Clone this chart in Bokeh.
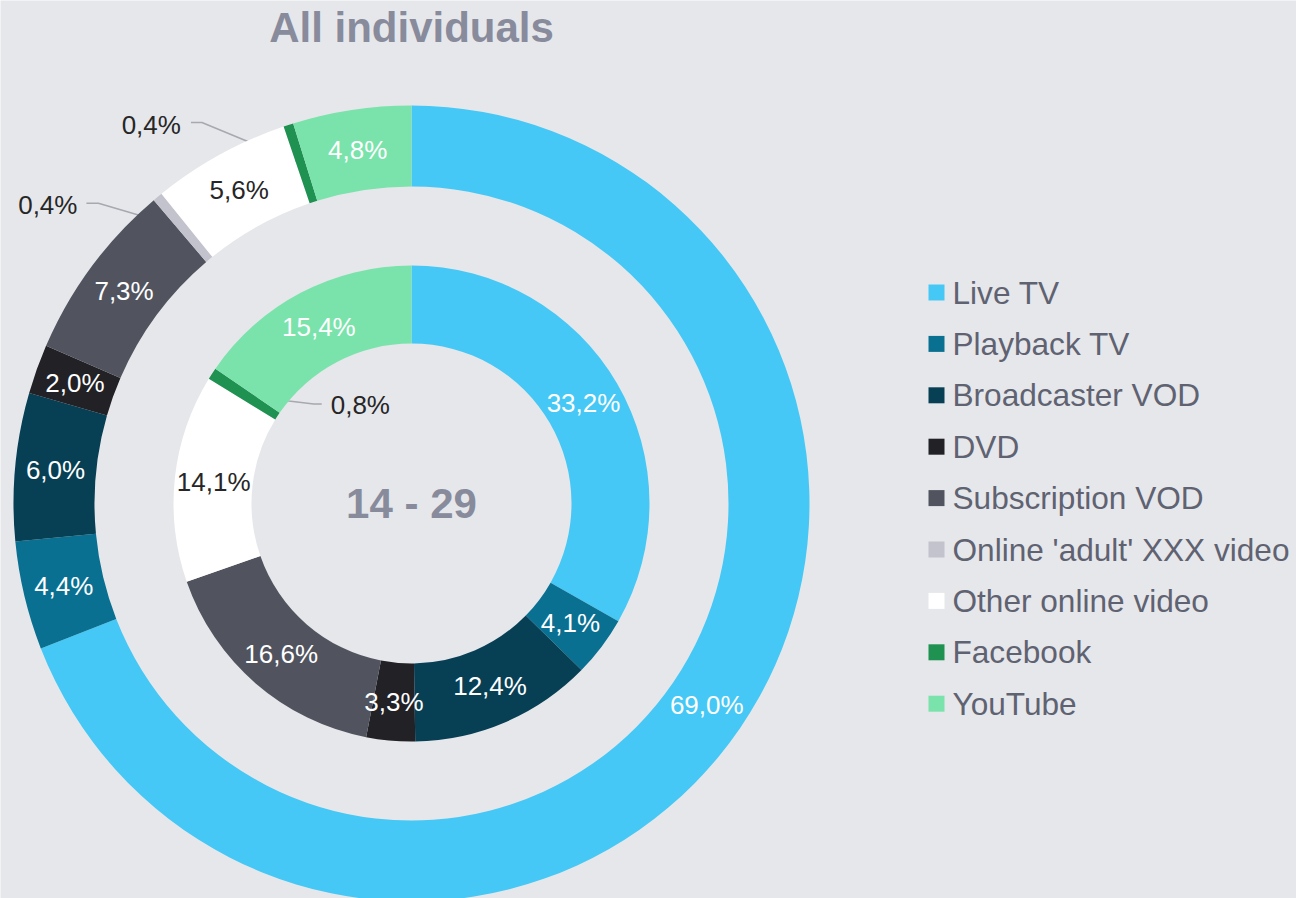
import math
from bokeh.plotting import figure
from bokeh.models import Range1d, ColumnDataSource
from bokeh.core.properties import value
from bokeh.embed import file_html
from bokeh.resources import INLINE

# ---------------- data ----------------
title_text = "All individuals"
center_text = "14 - 29"
categories = ["Live TV", "Playback TV", "Broadcaster VOD", "DVD", "Subscription VOD",
              "Online 'adult' XXX video", "Other online video", "Facebook", "YouTube"]
colors = ["#45C8F5", "#0A7092", "#073F55", "#212126", "#51545F",
          "#C3C3CD", "#FFFFFF", "#1F9150", "#7AE3AB"]
all_individuals = [69.0, 4.4, 6.0, 2.0, 7.3, 0.4, 5.6, 0.4, 4.8]
age_14_29 = [33.2, 4.1, 12.4, 3.3, 16.6, 0.0, 14.1, 0.8, 15.4]

# ---------------- layout ----------------
W, H = 1296, 898
BG = "#E6E7EB"
FONT = "Liberation Sans"
DARK = "#262626"
LEADER = "#A7A8B0"


def Y(sy):
    # screen y (page px) -> data y
    return H - sy


CX, CY = 411, Y(503)

p = figure(width=W, height=H, output_backend="svg", toolbar_location=None,
           x_range=Range1d(0, W), y_range=Range1d(0, H),
           min_border=0, outline_line_color=None,
           background_fill_color=BG, border_fill_color=BG)
p.axis.visible = False
p.grid.visible = False


def ring(values, r_in, r_out, label_colors, outside):
    total = sum(values)
    starts, ends, cols = [], [], []
    lx, ly, lt, lc = [], [], [], []
    cum = 0.0
    rm = (r_in + r_out) / 2
    for i, v in enumerate(values):
        a0 = math.pi / 2 - 2 * math.pi * cum / total
        a1 = math.pi / 2 - 2 * math.pi * (cum + v) / total
        am = (a0 + a1) / 2
        cum += v
        if v <= 0:
            continue
        starts.append(a0)
        ends.append(a1)
        cols.append(colors[i])
        txt = f"{v:.1f}%".replace(".", ",")
        ax, ay = CX + rm * math.cos(am), CY + rm * math.sin(am)
        if i in outside:
            pts, (tdx, tdy), align = outside[i]
            xs = [ax] + [ax + dx for dx, dy in pts]
            ys = [ay] + [ay - dy for dx, dy in pts]
            p.line(xs, ys, line_color=LEADER, line_width=1.5)
            p.text([ax + tdx], [ay - tdy], text=[txt], text_font=value(FONT),
                   text_font_size="26px", text_color=DARK, text_align=align,
                   text_baseline="middle")
        else:
            lx.append(ax)
            ly.append(ay)
            lt.append(txt)
            lc.append(label_colors[i])
    src = ColumnDataSource(dict(start=starts, end=ends, color=cols))
    p.annular_wedge(x=CX, y=CY, inner_radius=r_in, outer_radius=r_out,
                    start_angle="start", end_angle="end", direction="clock",
                    fill_color="color", line_color=None, source=src)
    p.text(lx, ly, text=lt, text_color=lc, text_font=value(FONT),
           text_font_size="26px", text_align="center", text_baseline="middle")


label_colors = ["white"] * len(categories)
label_colors[6] = DARK

outer_outside = {
    7: ([(-99, -41), (-110, -41)], (-120, -39), "right"),
    5: ([(-85, -25), (-97, -25)], (-106, -23), "right"),
}
inner_outside = {
    7: ([(44, 6), (69, 9), (77, 9)], (86, 10), "left"),
}

ring(all_individuals, 317, 398, label_colors, outer_outside)
ring(age_14_29, 160, 238, label_colors, inner_outside)

# title and center label
p.text([411], [Y(27)], text=[title_text], text_font=value(FONT), text_font_size="42px",
       text_font_style="bold", text_color="#888B9B", text_align="center",
       text_baseline="middle")
p.text([411], [Y(503)], text=[center_text], text_font=value(FONT), text_font_size="42px",
       text_font_style="bold", text_color="#888B9B", text_align="center",
       text_baseline="middle")

# legend
leg_y = [Y(292 + i * 51.4) for i in range(len(categories))]
p.rect(x=[936] * len(categories), y=leg_y, width=16, height=16,
       width_units="screen", height_units="screen",
       fill_color=colors, line_color=None)
p.text(x=[952] * len(categories), y=leg_y, text=categories, text_font=value(FONT),
       text_font_size="31.6px", text_color="#5F6271", text_align="left",
       text_baseline="middle")

html = file_html(p, INLINE, title="All individuals")
html = html.replace("<body>", '<body style="background-color:%s;">' % BG, 1)
open("out.html", "w").write(html)
